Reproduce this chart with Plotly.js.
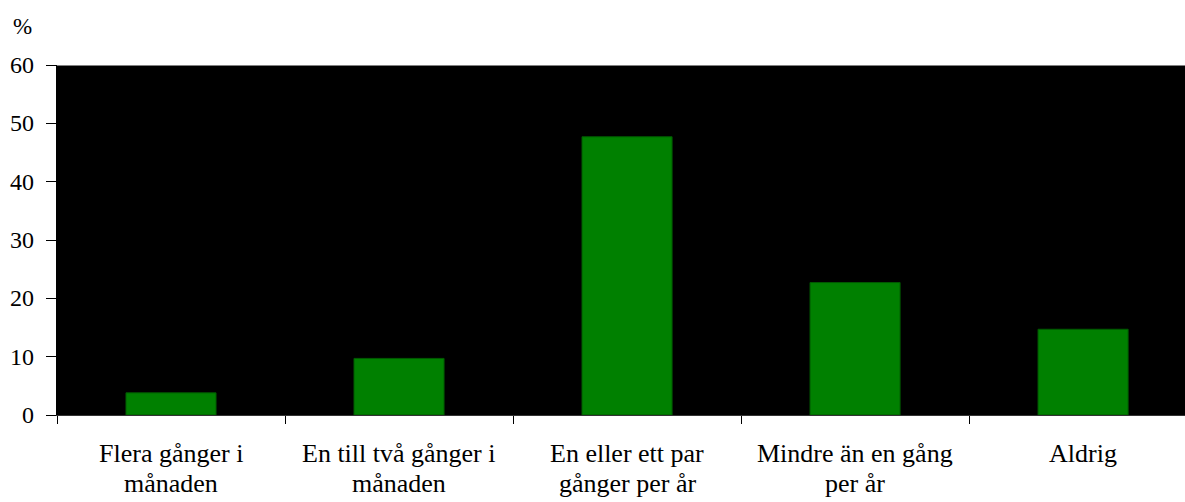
<!DOCTYPE html>
<html>
<head>
<meta charset="utf-8">
<script src="https://cdn.plot.ly/plotly-3.0.1.min.js"></script>
<style>
  html, body { margin: 0; padding: 0; background: #fff; }
</style>
</head>
<body>
<div id="chart"></div>
<script>
// kategorier och andelar (%)
const categories = [
  'Flera gånger i<br>månaden',
  'En till två gånger i<br>månaden',
  'En eller ett par<br>gånger per år',
  'Mindre än en gång<br>per år',
  'Aldrig'
];
const values = [3.8, 9.7, 47.7, 22.7, 14.7];
const yTicks = [0, 10, 20, 30, 40, 50, 60];

const serifFamily = 'serif';
const labelFont = { family: serifFamily, size: 26, color: '#000000' };
const tickFont  = { family: serifFamily, size: 24, color: '#000000' };

// etiketter som annoteringar (en rad per annotering, tätare radavstånd)
const catLabels = [];
categories.forEach(c => {
  c.split('<br>').forEach((line, i) => {
    catLabels.push({
      text: line, x: c, xref: 'x', y: 0, yref: 'paper',
      yanchor: 'middle', xanchor: 'center', yshift: -38 - i * 30,
      showarrow: false, font: labelFont,
    });
  });
});
const yLabels = yTicks.map(v => ({
  text: String(v), x: 0, xref: 'paper', y: v, yref: 'y',
  xanchor: 'right', yanchor: 'middle', xshift: -21,
  showarrow: false, font: tickFont,
}));

Plotly.newPlot('chart', [{
  type: 'bar',
  x: categories,
  y: values,
  marker: { color: '#008000', line: { color: '#005a00', width: 1 } },
}], {
  width: 1185, height: 502,
  margin: { t: 65, b: 87, l: 57, r: 0 },
  paper_bgcolor: '#ffffff',
  plot_bgcolor: '#000000',
  bargap: 0.605,
  showlegend: false,
  font: { family: serifFamily, size: 24, color: '#000000' },
  xaxis: {
    type: 'category',
    range: [-0.5, 4.447],
    tickson: 'boundaries',
    ticks: 'outside', ticklen: 8, tickcolor: '#000', tickwidth: 1,
    showticklabels: false,
    showline: true, linecolor: '#333', linewidth: 1,
    showgrid: false, zeroline: false,
  },
  yaxis: {
    range: [0, 60],
    tickvals: yTicks,
    ticks: 'outside', ticklen: 10, tickcolor: '#000', tickwidth: 1,
    showticklabels: false,
    showline: true, linecolor: '#000', linewidth: 1,
    showgrid: false, zeroline: false,
  },
  shapes: [{
    type: 'line', xref: 'paper', yref: 'y',
    x0: 0, x1: 1, y0: 60, y1: 60,
    line: { color: '#808080', width: 2 },
  }],
  annotations: [
    ...catLabels,
    ...yLabels,
    {
      text: '%', xref: 'paper', yref: 'paper',
      x: 0, y: 1.0, xshift: -35, yshift: 39, xanchor: 'center', yanchor: 'middle',
      showarrow: false, font: { family: serifFamily, size: 23, color: '#000000' },
    },
  ],
}, { displayModeBar: false });
</script>
</body>
</html>
